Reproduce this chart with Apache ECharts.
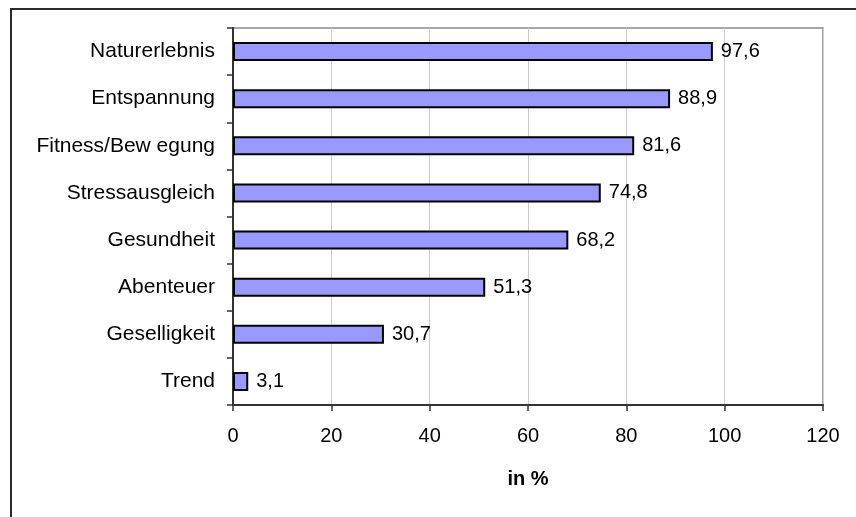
<!DOCTYPE html>
<html>
<head>
<meta charset="utf-8">
<script src="https://cdn.jsdelivr.net/npm/echarts@6/dist/echarts.min.js"></script>
<style>
  html, body { margin: 0; padding: 0; background: #fff; }
  #chart { width: 856px; height: 517px; }
</style>
</head>
<body>
<div id="chart"></div>
<script>
// Motive, sorted top to bottom
const categories = ['Naturerlebnis', 'Entspannung', 'Fitness/Bew egung', 'Stressausgleich',
                    'Gesundheit', 'Abenteuer', 'Geselligkeit', 'Trend'];
const percentValues = [97.6, 88.9, 81.6, 74.8, 68.2, 51.3, 30.7, 3.1];
const axisName = 'in %';

const FONT = '"Liberation Sans", Arial, sans-serif';

const chart = echarts.init(document.getElementById('chart'), null, { renderer: 'canvas' });

chart.setOption({
  animation: false,
  backgroundColor: '#ffffff',
  graphic: [
    {
      type: 'rect',
      shape: { x: 11, y: 9, width: 900, height: 600 },
      style: { fill: 'none', stroke: '#2a2a2a', lineWidth: 2 },
      silent: true
    }
  ],
  grid: {
    left: 233, right: 33, top: 28, bottom: 112,
    show: true,
    borderColor: '#8a8a8a',
    borderWidth: 1.5,
    backgroundColor: 'transparent'
  },
  xAxis: {
    type: 'value',
    min: 0, max: 120, interval: 20,
    name: axisName,
    nameLocation: 'middle',
    nameGap: 64,
    nameTextStyle: { fontFamily: FONT, fontSize: 20, fontWeight: 'bold', color: '#000' },
    axisLine: { show: true, lineStyle: { color: '#333', width: 2 } },
    axisTick: { show: true, length: 6, lineStyle: { color: '#333', width: 1.5 } },
    axisLabel: { fontFamily: FONT, fontSize: 20, color: '#000', margin: 21 },
    splitLine: { show: true, lineStyle: { color: '#cccccc', width: 1 } }
  },
  yAxis: {
    type: 'category',
    data: categories,
    inverse: true,
    axisLine: { show: true, lineStyle: { color: '#333', width: 2 } },
    axisTick: { show: true, length: 6, lineStyle: { color: '#333', width: 1.5 } },
    axisLabel: { fontFamily: FONT, fontSize: 21, color: '#000', margin: 18 },
    splitLine: { show: false }
  },
  series: [{
    type: 'bar',
    data: percentValues,
    barWidth: 19,
    itemStyle: { color: '#9999ff', borderColor: '#000', borderWidth: 2 },
    label: {
      show: true,
      position: 'right',
      distance: 8,
      fontFamily: FONT,
      fontSize: 20,
      color: '#000',
      formatter: p => String(p.value).replace('.', ',')
    }
  }]
});
</script>
</body>
</html>
